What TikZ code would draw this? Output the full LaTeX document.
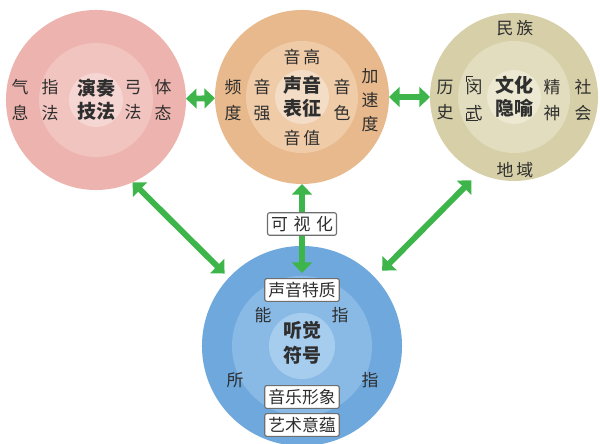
\documentclass[tikz,border=0pt]{standalone}
\usepackage{fontspec}
\setmainfont{Noto Sans CJK SC}
\usetikzlibrary{arrows.meta}
\definecolor{pinkA}{HTML}{EDB3AE}
\definecolor{pinkB}{HTML}{F1C4BF}
\definecolor{pinkC}{HTML}{F5D6D3}
\definecolor{oraA}{HTML}{E8B98C}
\definecolor{oraB}{HTML}{EFCBA8}
\definecolor{oraC}{HTML}{F4DDC7}
\definecolor{khaA}{HTML}{D6CFA8}
\definecolor{khaB}{HTML}{E2DDBE}
\definecolor{khaC}{HTML}{ECE8D2}
\definecolor{bluA}{HTML}{6FA8DC}
\definecolor{bluB}{HTML}{89BAE5}
\definecolor{bluC}{HTML}{A7CDEE}
\definecolor{arrg}{HTML}{3DB54A}
\definecolor{txt}{HTML}{2E2E2E}
\definecolor{boxc}{HTML}{6E6E6E}
\tikzset{
  ring/.style={circle,inner sep=0pt,outer sep=0pt},
  lbl/.style={align=center,text=txt,font=\fontsize{12}{18}\selectfont},
  core/.style={align=center,text=txt,font=\fontsize{13.5}{16.5}\selectfont\bfseries},
  tag/.style={draw=boxc,fill=white,rounded corners=1.5pt,line width=0.8pt,
    inner sep=2.5pt,text=txt,font=\fontsize{12}{14}\selectfont},
}
\begin{document}
\begin{tikzpicture}[x=0.025cm,y=-0.025cm]
        \useasboundingbox (0,0) rectangle (600,444);
        \begin{scope}[every node/.style={ring}]
          \node[fill=pinkA,minimum size=4.5cm] (yanzou) at (96,100) {};
          \node[fill=pinkB,minimum size=2.85cm] at (yanzou) {};
          \node[fill=pinkC,minimum size=1.35cm] at (yanzou) {};
          \node[fill=oraA,minimum size=4.35cm] (shengyin) at (302,97) {};
          \node[fill=oraB,minimum size=2.8cm] at (shengyin) {};
          \node[fill=oraC,minimum size=1.35cm] at (shengyin) {};
          \node[fill=khaA,minimum size=4.2cm] (wenhua) at (514,97) {};
          \node[fill=khaB,minimum size=2.8cm] at (wenhua) {};
          \node[fill=khaC,minimum size=1.35cm] at (wenhua) {};
          \node[fill=bluA,minimum size=5cm] (fuhao) at (302,346) {};
          \node[fill=bluB,minimum size=3.5cm] at (fuhao) {};
          \node[fill=bluC,minimum size=1.65cm] at (fuhao) {};
        \end{scope}
        \begin{scope}[every node/.style={lbl}]
          \node (qixi) at (20,100) {气\\息};
          \node (zhifa) at (50,100) {指\\法};
          \node (gongfa) at (133,100) {弓\\法};
          \node (titai) at (163,100) {体\\态};
          \node (yingao) at (302,57) {音\,高};
          \node (pindu) at (233,100) {频\\度};
          \node (yinqiang) at (262,100) {音\\强};
          \node (yinse) at (342,100) {音\\色};
          \node[font=\fontsize{12}{17}\selectfont] (jiasudu) at (370,100) {加\\速\\度};
          \node (yinzhi) at (302,138) {音\,值};
          \node (minzu) at (515,28) {民\,族};
          \node (lishi) at (445,100) {历\\史};
          \node (minshi) at (474,100) {闵\\式};
          \node (jingshen) at (552,100) {精\\神};
          \node (shehui) at (583,100) {社\\会};
          \node (diyu) at (515,170) {地\,域};
          \node (neng) at (263,315) {能};
          \node (zhiA) at (340,315) {指};
          \node (suo) at (235,380) {所};
          \node (zhiB) at (370,380) {指};
        \end{scope}
        \begin{scope}[every node/.style={core}]
          \node (yanzouT) at (yanzou) {演奏\\技法};
          \node (shengyinT) at (shengyin) {声音\\表征};
          \node (wenhuaT) at (wenhua) {文化\\隐喻};
          \node[font=\fontsize{13.5}{17.5}\selectfont\bfseries] (fuhaoT) at (302,343) {听觉\\符号};
        \end{scope}
        \begin{scope}[every node/.style={tag}]
          \node (keshi) at (302,224) {可\,\,视\,\,化};
          \node (texing) at (302,290) {声音特质};
          \node (xingxiang) at (302,397) {音乐形象};
          \node (yiyun) at (302,425) {艺术意蕴};
        \end{scope}
        \draw[txt,line width=0.5pt] (466,82) |- (473,76);
        \draw[txt,line width=0.5pt] (466,113) |- (478,120);
      \begin{scope}[>={Triangle[length=7.5pt,width=14pt]},
          every edge/.style={draw=arrg,line width=4.2pt}]
        \path (yanzou) edge[<->] (shengyin);
        \path (shengyin) edge[<->] (wenhua);
        \path (yanzou.294) edge[<->,shorten >=0.15cm] (fuhao.137);
        \path (wenhua.245) edge[<->,shorten <=0.25cm,shorten >=0.25cm] (fuhao.43);
        \path (shengyin) edge[<-] (keshi);
        \path (keshi) edge[->,shorten >=0.125cm] (texing);
      \end{scope}
      \end{tikzpicture}
\end{document}
